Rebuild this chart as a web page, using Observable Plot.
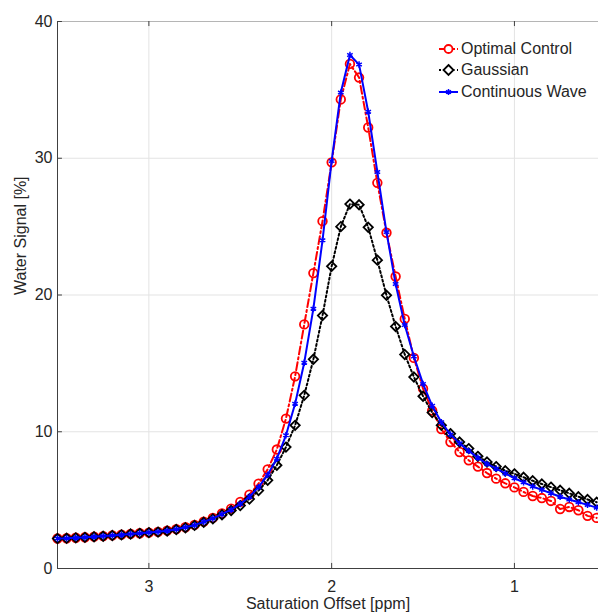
<!DOCTYPE html>
<html><head><meta charset="utf-8">
<script src="https://cdn.jsdelivr.net/npm/d3@7"></script>
<script src="https://cdn.jsdelivr.net/npm/@observablehq/plot@0.6"></script>
<style>
body{margin:0;background:#fff;}
#wrap{position:relative;width:598px;height:615px;overflow:hidden;font-family:"Liberation Sans",Arial,sans-serif;}
#legend{position:absolute;left:438px;top:38px;font-size:16px;color:#262626;}
.row{display:flex;align-items:center;height:21.6px;white-space:nowrap;}
.row svg{margin-right:1px;}
</style></head><body><div id="wrap"><div id="chart"></div><div id="legend"></div></div>
<script>
const offsets = [3.50,3.45,3.40,3.35,3.30,3.25,3.20,3.15,3.10,3.05,3.00,2.95,2.90,2.85,2.80,2.75,2.70,2.65,2.60,2.55,2.50,2.45,2.40,2.35,2.30,2.25,2.20,2.15,2.10,2.05,2.00,1.95,1.90,1.85,1.80,1.75,1.70,1.65,1.60,1.55,1.50,1.45,1.40,1.35,1.30,1.25,1.20,1.15,1.10,1.05,1.00,0.95,0.90,0.85,0.80,0.75,0.70,0.65,0.60,0.55];
const optimalControl = [2.19,2.21,2.25,2.28,2.33,2.37,2.42,2.48,2.53,2.58,2.62,2.68,2.77,2.88,3.02,3.19,3.43,3.70,4.02,4.38,4.87,5.40,6.20,7.25,8.70,10.96,14.05,17.85,21.6,25.4,29.7,34.3,36.9,35.9,32.25,28.2,24.55,21.35,18.25,15.4,13.15,11.55,10.2,9.25,8.52,7.91,7.45,6.98,6.57,6.23,5.93,5.6,5.3,5.15,4.94,4.35,4.5,4.26,3.85,3.7];
const gaussian = [2.19,2.21,2.24,2.28,2.32,2.36,2.41,2.46,2.52,2.57,2.62,2.66,2.74,2.85,2.98,3.15,3.38,3.63,3.93,4.24,4.60,5.08,5.70,6.45,7.55,8.88,10.47,12.66,15.3,18.5,22.1,25.0,26.65,26.6,24.95,22.55,19.98,17.7,15.65,14.0,12.6,11.4,10.47,9.86,9.25,8.77,8.2,7.79,7.45,7.15,6.92,6.67,6.42,6.18,5.95,5.72,5.5,5.25,5.05,4.85];
const continuousWave = [2.19,2.21,2.25,2.28,2.33,2.37,2.42,2.47,2.53,2.58,2.63,2.68,2.76,2.87,3.01,3.17,3.41,3.66,3.97,4.30,4.72,5.25,5.95,6.85,8.03,9.74,12.05,15.05,19.0,24.0,29.8,34.8,37.55,36.85,33.4,29.0,24.6,20.8,17.8,15.5,13.5,11.9,10.7,9.8,9.15,8.6,8.1,7.65,7.3,6.95,6.6,6.3,6.0,5.75,5.5,5.25,5.05,4.85,4.65,4.45];
const seriesNames = ["Optimal Control","Gaussian","Continuous Wave"];
const xTicks = [3,2,1];
const yTicks = [0,10,20,30,40];
const xLabel = "Saturation Offset [ppm]";
const yLabel = "Water Signal [%]";

const table = offsets.map((x,i)=>({x, oc: optimalControl[i], g: gaussian[i], cw: continuousWave[i]}));
const axisColor = "#404040";

const chart = Plot.plot({
  width: 598, height: 615,
  marginLeft: 57, marginRight: 0, marginTop: 21, marginBottom: 47,
  style: {fontFamily: '"Liberation Sans", Arial, sans-serif', fontSize: "16px", color: "#262626", background: "#fff"},
  x: {domain: [3.5, 0.54], ticks: xTicks, tickSize: 0, tickPadding: 12, label: null, tickFormat: d => String(d)},
  y: {domain: [0, 40], ticks: yTicks, tickSize: 0, tickPadding: 5, label: null, tickFormat: d => String(d)},
  marks: [
    Plot.ruleX(xTicks, {stroke: "#e3e3e3"}),
    Plot.ruleY(yTicks.filter(d => d > 0 && d < 40), {stroke: "#e3e3e3"}),
    Plot.ruleY([40], {stroke: "#b5b5b5"}),
    Plot.ruleX([3.5], {stroke: axisColor}),
    Plot.ruleY([0], {stroke: axisColor}),
    Plot.ruleX(xTicks, {y1: 0, y2: 0.37, stroke: axisColor}),
    Plot.ruleX(xTicks, {y1: 40, y2: 39.63, stroke: axisColor}),
    Plot.ruleY(yTicks, {x1: 3.5, x2: 3.473, stroke: axisColor}),
    Plot.line(table, {x: "x", y: "oc", stroke: "#ff0000", strokeWidth: 2, strokeDasharray: "8,3,2,3"}),
    Plot.dot(table, {x: "x", y: "oc", stroke: "#ff0000", symbol: "circle", r: 4.3, strokeWidth: 1.8, fill: "none"}),
    Plot.line(table, {x: "x", y: "g", stroke: "#000", strokeWidth: 2, strokeDasharray: "2,2.5"}),
    Plot.dot(table, {x: "x", y: "g", stroke: "#000", symbol: "diamond2", r: 4.2, strokeWidth: 1.8, fill: "none"}),
    Plot.line(table, {x: "x", y: "cw", stroke: "#0000ff", strokeWidth: 2}),
    Plot.dot(table, {x: "x", y: "cw", stroke: "#0000ff", symbol: "asterisk", r: 3, strokeWidth: 1.5}),
    Plot.text([xLabel], {frameAnchor: "bottom", dy: 40, text: d => d, fontSize: 16, fill: "#262626"}),
    Plot.text([yLabel], {frameAnchor: "left", dx: -37, rotate: -90, text: d => d, fontSize: 16, fill: "#262626"})
  ]
});
document.getElementById("chart").appendChild(chart);

const symbols = [
  `<line x1="1" y1="8" x2="20" y2="8" stroke="#ff0000" stroke-width="2" stroke-dasharray="5,2,2,2"/><circle cx="10.5" cy="8" r="4" fill="#fff" stroke="#ff0000" stroke-width="1.8"/>`,
  `<line x1="1" y1="8" x2="20" y2="8" stroke="#000" stroke-width="2" stroke-dasharray="2,2.5"/><path d="M10.5,3L15.5,8L10.5,13L5.5,8Z" fill="#fff" stroke="#000" stroke-width="1.8"/>`,
  `<line x1="1" y1="8" x2="20" y2="8" stroke="#0000ff" stroke-width="2"/><path d="M10.5,5v6M7.9,6.5l5.2,3M7.9,9.5l5.2,-3" stroke="#0000ff" stroke-width="1.5"/>`
];
document.getElementById("legend").innerHTML = seriesNames.map((n,i)=>
  `<div class="row"><svg width="22" height="16">${symbols[i]}</svg><span>${n}</span></div>`).join("");
</script>
</body></html>
